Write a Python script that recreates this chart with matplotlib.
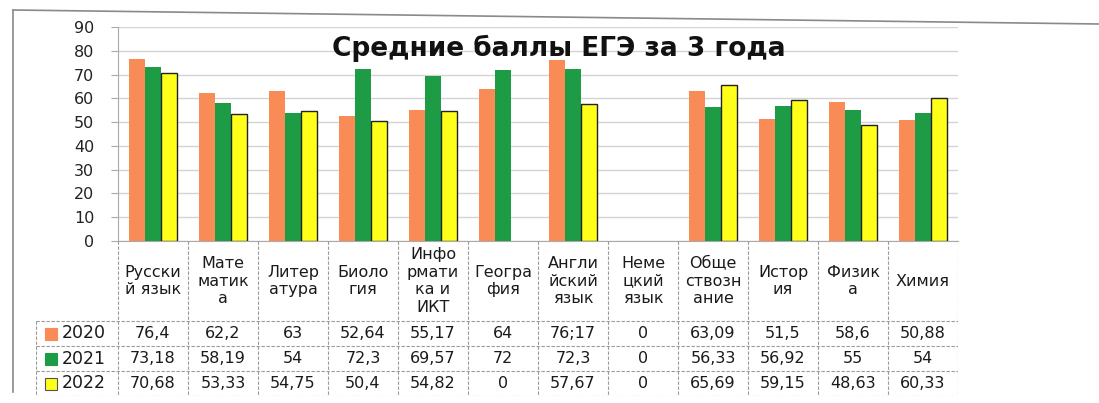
import matplotlib.pyplot as plt
import matplotlib.lines as mlines
import numpy as np

# Данные: средние баллы ЕГЭ
предметы = ["Русски\nй язык", "Мате\nматик\nа", "Литер\nатура", "Биоло\nгия",
            "Инфо\nрмати\nка и\nИКТ", "Геогра\nфия", "Англи\nйский\nязык",
            "Неме\nцкий\nязык", "Обще\nствозн\nание", "Истор\nия", "Физик\nа", "Химия"]
годы = ["2020", "2021", "2022"]
баллы_2020 = [76.4, 62.2, 63, 52.64, 55.17, 64, 76.17, 0, 63.09, 51.5, 58.6, 50.88]
баллы_2021 = [73.18, 58.19, 54, 72.3, 69.57, 72, 72.3, 0, 56.33, 56.92, 55, 54]
баллы_2022 = [70.68, 53.33, 54.75, 50.4, 54.82, 0, 57.67, 0, 65.69, 59.15, 48.63, 60.33]
# подписи в таблице (как в оригинале, с запятой)
подписи_2020 = ["76,4", "62,2", "63", "52,64", "55,17", "64", "76;17", "0", "63,09", "51,5", "58,6", "50,88"]
подписи_2021 = ["73,18", "58,19", "54", "72,3", "69,57", "72", "72,3", "0", "56,33", "56,92", "55", "54"]
подписи_2022 = ["70,68", "53,33", "54,75", "50,4", "54,82", "0", "57,67", "0", "65,69", "59,15", "48,63", "60,33"]

цвета = ["#F98B57", "#1E9B45", "#FFFF1A"]
W, H = 1099, 403

fig = plt.figure(figsize=(W / 100, H / 100), dpi=100)
plt.rcParams['font.family'] = ['DejaVu Sans']

# положение области графика в пикселях
x0, x1 = 118, 958
y_top, y_bot = 27, 241
ax = fig.add_axes([x0 / W, 1 - y_bot / H, (x1 - x0) / W, (y_bot - y_top) / H])

n = len(предметы)
x = np.arange(n)
bw = 0.23
ax.bar(x - bw, баллы_2020, bw, color=цвета[0], zorder=3)
ax.bar(x, баллы_2021, bw, color=цвета[1], zorder=3)
ax.bar(x + bw, баллы_2022, bw, color=цвета[2], edgecolor="#222222",
       linewidth=[1 if v > 0 else 0 for v in баллы_2022], zorder=3)

ax.set_xlim(-0.5, n - 0.5)
ax.set_ylim(0, 90)
ax.set_yticks(range(0, 91, 10))
ax.tick_params(axis='y', labelsize=11.5, length=5, color="#aaaaaa", pad=12, labelcolor="#222222")
ax.set_xticks([])
ax.yaxis.grid(True, color="#d4d4d4", linewidth=1, zorder=0)
for s in ["top", "right"]:
    ax.spines[s].set_visible(False)
ax.spines["left"].set_color("#aaaaaa")
ax.spines["bottom"].set_color("#aaaaaa")

ax.text(0.525, 0.90, "Средние баллы ЕГЭ за 3 года", transform=ax.transAxes,
        ha="center", va="center", fontsize=19, fontweight="bold", color="#111111")

# таблица данных под графиком
px_unit = (x1 - x0) / n
left_px = 36
tab_bot = 396
tax = fig.add_axes([left_px / W, 1 - tab_bot / H, (x1 - left_px) / W, (tab_bot - y_bot) / H])
xl = -0.5 - (x0 - left_px) / px_unit
tax.set_xlim(xl, n - 0.5)
tax.set_ylim(tab_bot - y_bot, 0)
tax.axis("off")

lc = "#9a9a9a"
ls = (0, (3, 1.5))
row_lines = [80, 105, 130, 155]
for yy in row_lines:
    tax.plot([xl, n - 0.5], [yy, yy], color=lc, lw=0.8, ls=ls)
for k in range(n + 1):
    tax.plot([k - 0.5, k - 0.5], [0, 155], color=lc, lw=0.8, ls=ls)
tax.plot([xl, xl], [80, 155], color=lc, lw=0.8, ls=ls)

for k, name in enumerate(предметы):
    tax.text(k, 40, name, ha="center", va="center", fontsize=11.5,
             linespacing=1.2, color="#1a1a1a")

rows = [подписи_2020, подписи_2021, подписи_2022]
for r, (год, подписи) in enumerate(zip(годы, rows)):
    yc = 92.5 + 25 * r
    tax.plot(xl + 0.21, yc, marker="s", ms=9, color=цвета[r],
             mec="#555555" if r == 2 else цвета[r], mew=0.8)
    tax.text(xl + 0.37, yc, год, ha="left", va="center", fontsize=12.5, color="#1a1a1a")
    for k, t in enumerate(подписи):
        tax.text(k, yc, t, ha="center", va="center", fontsize=11.5, color="#1a1a1a")

# рамка диаграммы
fig.add_artist(mlines.Line2D([13 / W, 13 / W], [1 - 10 / H, 1 - 392 / H], color="#8a8a8a", lw=1.2))
fig.add_artist(mlines.Line2D([13 / W, 1.0], [1 - 10 / H, 1 - 24 / H], color="#8a8a8a", lw=1.2))

fig.savefig("out.png", dpi=100)
